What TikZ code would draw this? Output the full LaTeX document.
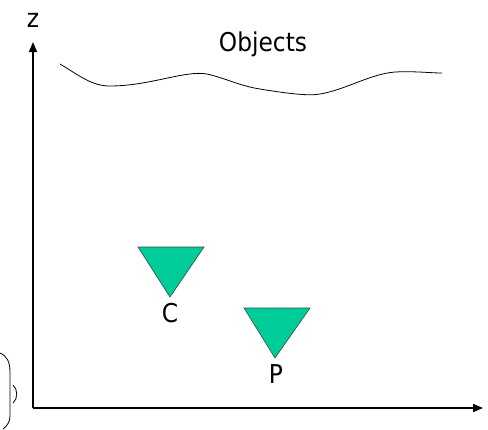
\documentclass[tikz,border=0pt]{standalone}
\usepackage{fontspec}
\setmainfont{DejaVu Sans Condensed}
\usetikzlibrary{arrows.meta,positioning}

\begin{document}
\begin{tikzpicture}[x=1bp, y=-1bp]
    % Color Palette
    \definecolor{camFill}{HTML}{00CC99}
    \definecolor{camBorder}{HTML}{2F4F45}

    \tikzset{
        axis/.style={line width=1.6bp, -{Triangle[length=10bp, width=8bp]}},
        lbl/.style={font=\fontsize{26}{29}\selectfont, inner sep=0pt},
        cam/.style={draw=camBorder, fill=camFill, line width=0.6bp, line join=miter}
    }

    \useasboundingbox (0,0) rectangle (488,429);

    % --- Axes ---
    \coordinate (origin) at (33,408);
    \coordinate (ztip) at (33,42);
    \coordinate (xtip) at (483,408);
    \draw[axis] (origin) -- (ztip);
    \draw[axis] (origin) -- (xtip);
    \node[lbl] (zlabel) at (33,20) {z};

    % --- Objects surface ---
    \node[lbl] (objects) at (263,44) {Objects};
    \draw[line width=0.8bp] (60,64) .. controls (80,76) and (92,86) .. (110,86)
        .. controls (150,86) and (185,70) .. (207,74)
        .. controls (225,78) and (240,86) .. (260,89)
        .. controls (290,94) and (310,96) .. (320,94)
        .. controls (345,90) and (370,74) .. (395,72)
        .. controls (415,71) and (430,73) .. (442,73);

    % --- Cameras ---
    \draw[cam] (138,247) -- (204,247) -- (170,297) -- cycle;
    \node[lbl] (C) at (170,313) {C};
    \draw[cam] (244,308) -- (310,308) -- (275,358) -- cycle;
    \node[lbl] (P) at (276,374) {P};

    % Clipped brace on the left
    \draw[line width=0.8bp] (0,353) .. controls (7,356) and (10,362) .. (10,372) -- (10,416)
        .. controls (10,422) and (7,426) .. (3,429);
    \draw[line width=0.8bp] (13,385) .. controls (18,389) and (18,399) .. (13,403);

\end{tikzpicture}
\end{document}
